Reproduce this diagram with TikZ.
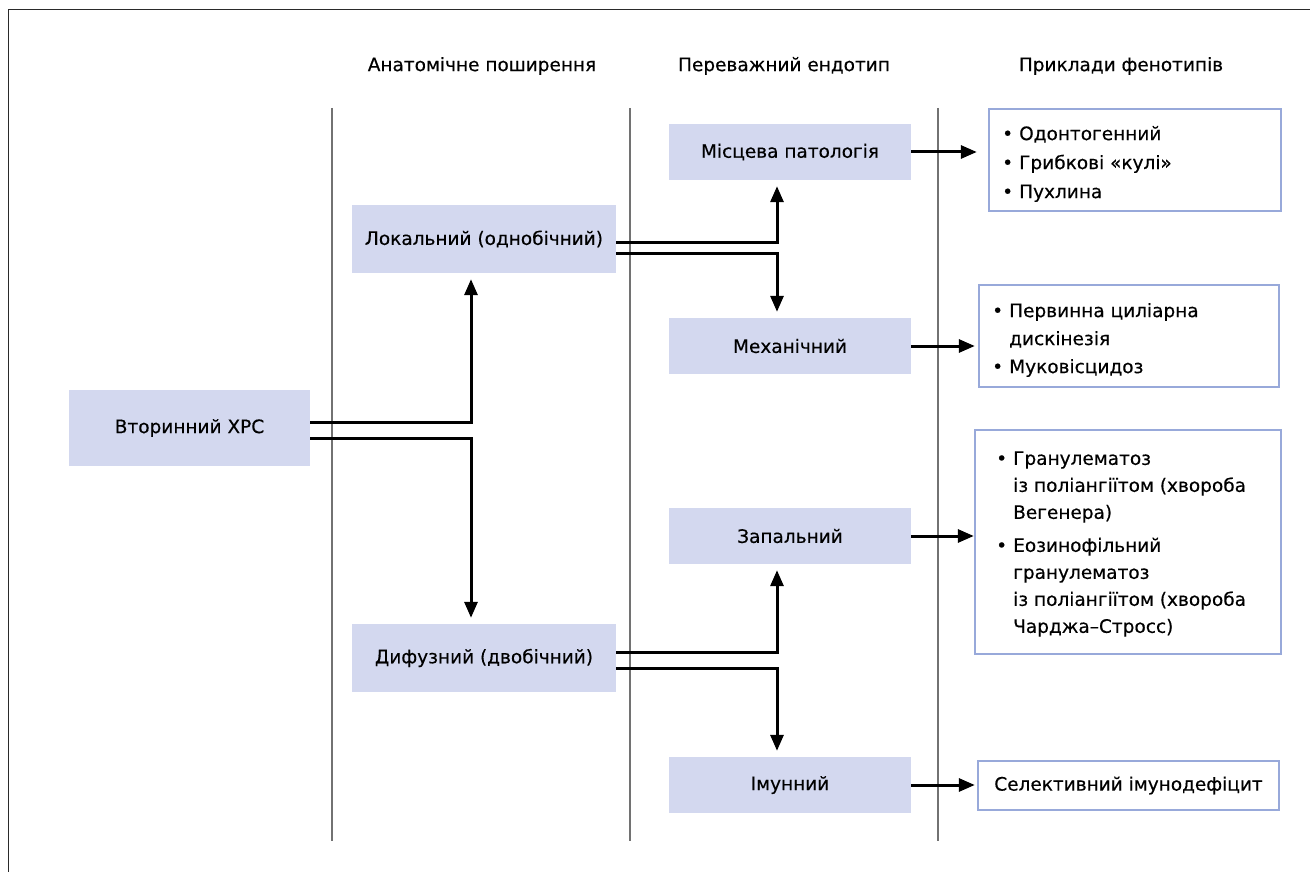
\documentclass[tikz,border=0pt]{standalone}
\usepackage{fontspec}
\setmainfont{DejaVu Sans}[UprightFeatures={FakeBold=0.4}]
\usetikzlibrary{arrows.meta}

\definecolor{boxfill}{HTML}{D3D8EF}
\definecolor{boxline}{HTML}{98A9DA}
\definecolor{sepgray}{HTML}{727272}
\definecolor{framegray}{HTML}{2A2A2A}

% bullet with hanging indent for the phenotype lists
\newcommand\bul{\makebox[17pt][l]{•}}
\newcommand\hang{\hspace*{17pt}}

\begin{document}
\begin{tikzpicture}[x=1pt,y=-1pt,
  txt/.style={font=\fontsize{18.5}{27}\selectfont, text=black},
  endo/.style={txt, fill=boxfill, draw=none, inner sep=0pt, align=center},
  pheno/.style={draw=boxline, line width=2.4pt, fill=white, inner sep=0pt},
  plist/.style={txt, anchor=west, inner sep=0pt, align=left},
  head/.style={txt, inner sep=0pt},
  sep/.style={draw=sepgray, line width=1.4pt},
  arr/.style={line width=3pt, -{Triangle[length=16pt,width=13pt]}, shorten >=6pt}
]
\useasboundingbox (0,0) rectangle (1310,872);

% outer frame (left and top edges)
\draw[framegray, line width=1.8pt] (8.5,872) -- (8.5,9.5) -- (1310,9.5);

% column headers
\node[head] (h1) at (482,66) {Анатомічне поширення};
\node[head] (h2) at (784,66) {Переважний ендотип};
\node[head] (h3) at (1121,66) {Приклади фенотипів};

% column separators
\draw[sep] (332,108) -- (332,841);
\draw[sep] (630,108) -- (630,841);
\draw[sep] (938,108) -- (938,841);

% filled boxes
\node[endo, minimum width=241pt, minimum height=76pt] (xrs) at (189.5,428) {Вторинний ХРС};
\node[endo, minimum width=264pt, minimum height=68pt] (lok) at (484,239) {Локальний (однобічний)};
\node[endo, minimum width=264pt, minimum height=68pt] (dif) at (484,658) {Дифузний (двобічний)};
\node[endo, minimum width=242pt, minimum height=56pt] (mis) at (790,152) {Місцева патологія};
\node[endo, minimum width=242pt, minimum height=56pt] (mech) at (790,346) {Механічний};
\node[endo, minimum width=242pt, minimum height=56pt] (zap) at (790,536) {Запальний};
\node[endo, minimum width=242pt, minimum height=56pt] (imm) at (790,785) {Імунний};

% phenotype boxes
\node[pheno, minimum width=292pt, minimum height=102pt] (p1) at (1135,160) {};
\node[pheno, minimum width=300pt, minimum height=102pt] (p2) at (1129,336) {};
\node[pheno, minimum width=306pt, minimum height=224pt] (p3) at (1128,542) {};
\node[pheno, minimum width=301pt, minimum height=49pt, txt] (p4) at (1128.5,785.5) {Селективний імунодефіцит};

\node[plist, font=\fontsize{18.5}{29}\selectfont] (p1t) at (1002,164)
  {\bul Одонтогенний\\ \bul Грибкові «кулі»\\ \bul Пухлина};
\node[plist, font=\fontsize{18.5}{28}\selectfont] (p2t) at (992,340)
  {\bul Первинна циліарна\\ \hang дискінезія\\ \bul Муковісцидоз};
\node[plist] (p3t) at (996,544)
  {\bul Гранулематоз\\ \hang із поліангіїтом (хвороба\\ \hang Вегенера)\\[6pt]
   \bul Еозинофільний\\ \hang гранулематоз\\ \hang із поліангіїтом (хвороба\\ \hang Чарджа–Стросс)};

% branching connectors
\draw[arr] ([yshift=6pt]xrs.east) -| ([xshift=-13pt]lok.south);
\draw[arr] ([yshift=-10pt]xrs.east) -| ([xshift=-13pt]dif.north);
\draw[arr] ([yshift=-3pt]lok.east) -| ([xshift=-13pt]mis.south);
\draw[arr] ([yshift=-14pt]lok.east) -| ([xshift=-13pt]mech.north);
\draw[arr] ([yshift=6pt]dif.east) -| ([xshift=-13pt]zap.south);
\draw[arr] ([yshift=-10pt]dif.east) -| ([xshift=-13pt]imm.north);

% endotype to phenotype arrows
\draw[arr, shorten >=11pt] (mis.east) -- (mis.east -| p1.west);
\draw[arr, shorten >=3pt] (mech.east) -- (mech.east -| p2.west);
\draw[arr, shorten >=0pt] (zap.east) -- (zap.east -| p3.west);
\draw[arr, shorten >=2pt] (imm.east) -- (imm.east -| p4.west);
\end{tikzpicture}
\end{document}
